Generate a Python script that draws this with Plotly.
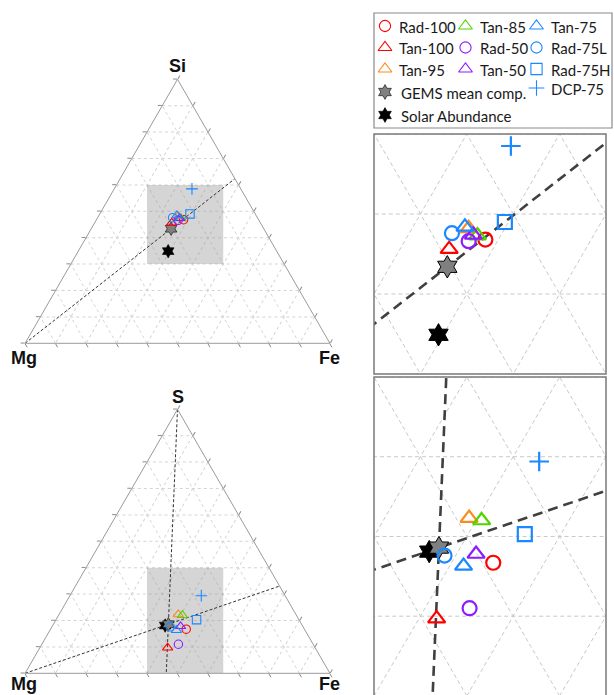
import math
import plotly.graph_objects as go

W, H = 614, 695
SQ3 = math.sqrt(3) / 2

# ---------------------------------------------------------------- data
labels = ["Rad-100", "Tan-100", "Tan-95", "Tan-85", "Rad-50", "Tan-50",
          "Tan-75", "Rad-75L", "Rad-75H", "DCP-75",
          "GEMS mean comp.", "Solar Abundance"]

# Si-Mg-Fe diagram: Si and Fe atomic fractions (Mg is the remainder)
si_top = [0.468, 0.456, 0.482, 0.473, 0.466, 0.474, 0.484, 0.476, 0.490, 0.585, 0.434, 0.349]
fe_top = [0.286, 0.253, 0.261, 0.275, 0.269, 0.270, 0.256, 0.246, 0.296, 0.255, 0.262, 0.295]

# S-Mg-Fe diagram: S and Fe atomic fractions (Mg is the remainder)
s_bot = [0.167, 0.097, 0.223, 0.220, 0.110, 0.178, 0.163, 0.176, 0.203, 0.294, 0.186, 0.181]
fe_bot = [0.445, 0.419, 0.391, 0.406, 0.448, 0.421, 0.415, 0.388, 0.461, 0.431, 0.377, 0.369]

grid_steps = [0.1, 0.2, 0.3, 0.4, 0.5, 0.6, 0.7, 0.8, 0.9]

# enlarged windows: X along the Mg-Fe base, range of the apex component
zoom_x = [0.40, 0.65]
zoom_si = [0.30, 0.60]
zoom_s = [0.00, 0.40]

REFERENCE = "GEMS mean comp."

# ---------------------------------------------------------------- styles
RED, ORANGE, GREEN = "#ff0000", "#ff8a1c", "#4fd400"
PURPLE, BLUE = "#8a1cff", "#1a88ff"
style = {
    "Rad-100": ("circle-open", RED),
    "Tan-100": ("triangle-up-open", RED),
    "Tan-95": ("triangle-up-open", ORANGE),
    "Tan-85": ("triangle-up-open", GREEN),
    "Rad-50": ("circle-open", PURPLE),
    "Tan-50": ("triangle-up-open", PURPLE),
    "Tan-75": ("triangle-up-open", BLUE),
    "Rad-75L": ("circle-open", BLUE),
    "Rad-75H": ("square-open", BLUE),
    "DCP-75": ("cross-thin-open", BLUE),
    "GEMS mean comp.": ("hexagram", "#808080"),
    "Solar Abundance": ("hexagram", "#000000"),
}
draw_order = ["Solar Abundance", "GEMS mean comp."] + labels[:10]


def marker(label, scale):
    sym, col = style[label]
    if sym == "hexagram":
        return dict(symbol=sym, size=17 * scale, color=col,
                    line=dict(color="black", width=1.0 if scale > 0.8 else 0.6))
    size = {"circle-open": 14, "square-open": 14, "triangle-up-open": 15,
            "cross-thin-open": 14}[sym] * scale
    return dict(symbol=sym, size=size, color=col,
                line=dict(color=col, width=2.2 * scale if scale > 0.8 else 1.1))


def tern(top, fe):
    return top, 1 - top - fe, fe


def to_xy(a, c):
    return c + a / 2, a * SQ3


def px_x(p):
    return p / W


def px_y(p):
    return 1 - p / H


idx = {lab: i for i, lab in enumerate(labels)}

fig = go.Figure()

# ---------------------------------------------------------------- helpers


def vertex_line(vertex, a, b, c):
    """Line from a triangle vertex through (a, b, c) to the opposite edge."""
    if vertex == "a":
        t = b + c
        return [1, 0], [0, b / t], [0, c / t]
    t = a + c
    return [0, a / t], [1, 0], [0, c / t]


def zoom_box(top_rng):
    aa, bb, cc = [], [], []
    for xv, av in [(zoom_x[0], top_rng[1]), (zoom_x[1], top_rng[1]),
                   (zoom_x[1], top_rng[0]), (zoom_x[0], top_rng[0]),
                   (zoom_x[0], top_rng[1])]:
        c = xv - av / 2
        aa.append(av)
        cc.append(c)
        bb.append(1 - av - c)
    return aa, bb, cc


def grid_xy():
    xs, ys = [], []
    for k in grid_steps:
        for (a0, c0), (a1, c1) in [((k, 0), (k, 1 - k)),
                                   ((0, k), (1 - k, k)),
                                   ((0, 1 - k), (1 - k, 0))]:
            x0, y0 = to_xy(a0, c0)
            x1, y1 = to_xy(a1, c1)
            xs += [x0, x1, None]
            ys += [y0, y1, None]
    return xs, ys


def add_panel(top_vals, fe_vals, top_rng, lines, tsub, xa, ya):
    # shaded window on the full triangle
    ba, bb, bc = zoom_box(top_rng)
    fig.add_trace(go.Scatterternary(a=ba, b=bb, c=bc, mode="lines", fill="toself",
                                    fillcolor="rgba(150,150,150,0.40)",
                                    line=dict(width=0), subplot=tsub,
                                    showlegend=False, hoverinfo="skip"))
    # triangular grid in the enlarged panel
    gx, gy = grid_xy()
    fig.add_trace(go.Scatter(x=gx, y=gy, mode="lines", xaxis=xa, yaxis=ya,
                             line=dict(color="#c8c8c8", width=1, dash="4px,3px"),
                             showlegend=False, hoverinfo="skip"))
    # reference lines through the GEMS mean composition
    ra, rb, rc = tern(top_vals[idx[REFERENCE]], fe_vals[idx[REFERENCE]])
    for v in lines:
        la, lb, lc = vertex_line(v, ra, rb, rc)
        fig.add_trace(go.Scatterternary(a=la, b=lb, c=lc, mode="lines", subplot=tsub,
                                        line=dict(color="#333333", width=1, dash="3px,2px"),
                                        showlegend=False, hoverinfo="skip"))
        lx, ly = zip(*[to_xy(p, q) for p, q in zip(la, lc)])
        fig.add_trace(go.Scatter(x=list(lx), y=list(ly), mode="lines", xaxis=xa, yaxis=ya,
                                 line=dict(color="#404040", width=2.6, dash="10px,6px"),
                                 showlegend=False, hoverinfo="skip"))
    # samples
    for lab in draw_order:
        a, b, c = tern(top_vals[idx[lab]], fe_vals[idx[lab]])
        fig.add_trace(go.Scatterternary(a=[a], b=[b], c=[c], mode="markers", subplot=tsub,
                                        marker=marker(lab, 0.6), name=lab,
                                        showlegend=False))
        x, y = to_xy(a, c)
        fig.add_trace(go.Scatter(x=[x], y=[y], mode="markers", xaxis=xa, yaxis=ya,
                                 marker=marker(lab, 1.0), name=lab, showlegend=False))


add_panel(si_top, fe_top, zoom_si, ["b"], "ternary", "x", "y")
add_panel(s_bot, fe_bot, zoom_s, ["a", "b"], "ternary2", "x2", "y2")

# ---------------------------------------------------------------- legend
legend_slots = {
    "Rad-100": (0, 0), "Tan-100": (0, 1), "Tan-95": (0, 2),
    "GEMS mean comp.": (0, 3), "Solar Abundance": (0, 4),
    "Tan-85": (1, 0), "Rad-50": (1, 1), "Tan-50": (1, 2),
    "Tan-75": (2, 0), "Rad-75L": (2, 1), "Rad-75H": (2, 2), "DCP-75": (2, 3),
}
col_x = [385, 465.5, 536.5]
row_y = [26, 47.5, 69, 92, 115]
annotations = []
for lab, (ci, ri) in legend_slots.items():
    yy = row_y[ri] - (4 if lab == "DCP-75" else 0)
    mk = marker(lab, 0.8)
    if style[lab][0] == "hexagram":
        mk = marker(lab, 0.66)
    fig.add_trace(go.Scatter(x=[col_x[ci]], y=[yy], mode="markers", xaxis="x3", yaxis="y3",
                             marker=mk, showlegend=False, hoverinfo="skip"))
    annotations.append(dict(x=col_x[ci] + (14 if ci == 0 and ri >= 3 else 12), y=yy + 1,
                            xref="x3", yref="y3", text=lab, showarrow=False,
                            xanchor="left", yanchor="middle",
                            font=dict(family="Lato", size=15, color="#1a1a1a")))

# corner labels
corner_font = dict(family="Liberation Sans", size=18, color="#111111", weight="bold")
for txt, x, y in [("Si", 177.7, 66.5), ("Mg", 24, 357.5), ("Fe", 329, 357.5),
                  ("S", 177.7, 396.5), ("Mg", 24, 683.5), ("Fe", 329, 683.5)]:
    annotations.append(dict(x=px_x(x), y=px_y(y), xref="paper", yref="paper", text=txt,
                            showarrow=False, xanchor="center", yanchor="middle",
                            font=corner_font))

tern_axis = dict(showticklabels=False, ticks="outside", ticklen=4, tickwidth=1,
                 tickcolor="#8c8c8c", linecolor="#9a9a9a", linewidth=1,
                 gridcolor="#d4d4d4", griddash="dot", gridwidth=1,
                 tick0=0, dtick=0.1, min=0, title=dict(text=""))


def ternary_layout(top_px, base_px):
    return dict(sum=1, bgcolor="white",
                domain=dict(x=[px_x(25), px_x(330)], y=[px_y(base_px), px_y(top_px)]),
                aaxis=tern_axis, baxis=tern_axis, caxis=tern_axis)


hidden = dict(visible=False, fixedrange=True)
fig.update_layout(
    width=W, height=H, margin=dict(l=0, r=0, t=0, b=0),
    paper_bgcolor="white", plot_bgcolor="rgba(0,0,0,0)",
    showlegend=False,
    ternary=ternary_layout(79.3, 343.3),
    ternary2=ternary_layout(409.3, 673.3),
    xaxis=dict(domain=[px_x(374), px_x(606)], range=zoom_x, anchor="y", **hidden),
    yaxis=dict(domain=[px_y(374), px_y(134)], range=[zoom_si[0] * SQ3, zoom_si[1] * SQ3],
               anchor="x", **hidden),
    xaxis2=dict(domain=[px_x(374), px_x(606)], range=zoom_x, anchor="y2", **hidden),
    yaxis2=dict(domain=[0, px_y(377)], range=[zoom_s[0] * SQ3 + 0.001, zoom_s[1] * SQ3],
                anchor="x2", **hidden),
    xaxis3=dict(domain=[px_x(374), px_x(612)], range=[374, 612], anchor="y3", **hidden),
    yaxis3=dict(domain=[px_y(128), px_y(13)], range=[128, 13], anchor="x3", **hidden),
    annotations=annotations,
    shapes=[
        dict(type="rect", xref="x domain", yref="y domain", x0=0, x1=1, y0=0, y1=1,
             line=dict(color="#7a7a7a", width=1.5), layer="above"),
        dict(type="rect", xref="x2 domain", yref="y2 domain", x0=0, x1=1, y0=-0.05, y1=1,
             line=dict(color="#7a7a7a", width=1.5), layer="above"),
        dict(type="rect", xref="paper", yref="paper", x0=px_x(374), x1=px_x(612),
             y0=px_y(128), y1=px_y(13), line=dict(color="#8a8a8a", width=1.2)),
    ],
)

fig.write_html("out.html")
